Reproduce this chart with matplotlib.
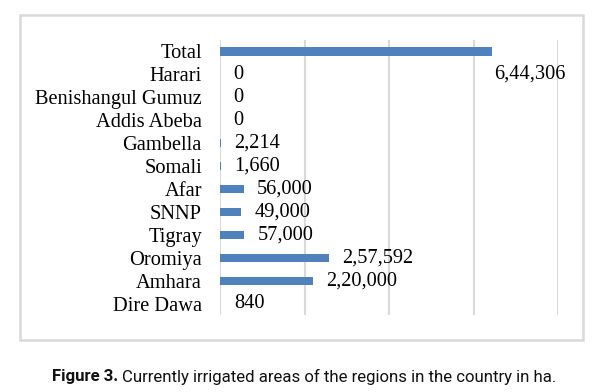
import matplotlib
matplotlib.use('Agg')
import matplotlib.pyplot as plt
from matplotlib.patches import Rectangle

# 数据
regions = ['Total', 'Harari', 'Benishangul Gumuz', 'Addis Abeba', 'Gambella', 'Somali',
           'Afar', 'SNNP', 'Tigray', 'Oromiya', 'Amhara', 'Dire Dawa']
area = [644306, 0, 0, 0, 2214, 1660, 56000, 49000, 57000, 257592, 220000, 840]
labels = ['6,44,306', '0', '0', '0', '2,214', '1,660', '56,000', '49,000', '57,000',
          '2,57,592', '2,20,000', '840']
caption_bold = 'Figure 3.'
caption = 'Currently irrigated areas of the regions in the country in ha.'

plt.rcParams['font.family'] = ['Liberation Serif', 'DejaVu Serif']
fs = 14.7

fig = plt.figure(figsize=(6.01, 3.92), dpi=100)

# 外框
fig.patches.append(Rectangle((20 / 601, 1 - 340 / 392), 563 / 601, 325 / 392,
                             transform=fig.transFigure, fill=False,
                             edgecolor='#D9D9D9', linewidth=1.8))

ax = fig.add_axes([220 / 601, 1 - 315 / 392, 338 / 601, 275 / 392])

y = list(range(len(regions)))
ax.barh(y, area, height=0.36, color='#4F81BD', zorder=2)
ax.set_ylim(len(regions) - 0.5, -0.5)
ax.set_xlim(0, 800000)
ax.set_xticks([0, 200000, 400000, 600000, 800000])
ax.xaxis.grid(True, color='#D9D9D9', linewidth=1.5)
ax.set_xticklabels([])
ax.tick_params(length=0)
ax.set_yticks(y)
ax.set_yticklabels(regions, fontsize=fs)
ax.tick_params(axis='y', pad=13)
for s in ax.spines.values():
    s.set_visible(False)

# 数据标签（Total的标签在下一行）
for i, (v, t) in enumerate(zip(area, labels)):
    if i == 0:
        ax.text(v + 5000, 1, t, ha='left', va='center', fontsize=fs)
    else:
        ax.text(v + 32000, i, t, ha='left', va='center', fontsize=fs)

# 图注，调整字号使宽度约为508像素
cfont = ['Roboto', 'DejaVu Sans']
cs = 13
cy = 1 - 377 / 392
t1 = fig.text(52 / 601, cy, caption_bold, fontsize=cs, fontweight='bold',
              family=cfont, ha='left', va='center', color='#111111')
t2 = fig.text(0, cy, caption, fontsize=cs, family=cfont, ha='left', va='center', color='#111111')
r = fig.canvas.get_renderer()
w = t1.get_window_extent(r).width + 5 + t2.get_window_extent(r).width
cs = cs * 508 / w
t1.set_fontsize(cs)
t2.set_fontsize(cs)
bb = t1.get_window_extent(r)
t2.set_x((bb.x1 + 4) / 601)

fig.savefig('out.png', dpi=100)
